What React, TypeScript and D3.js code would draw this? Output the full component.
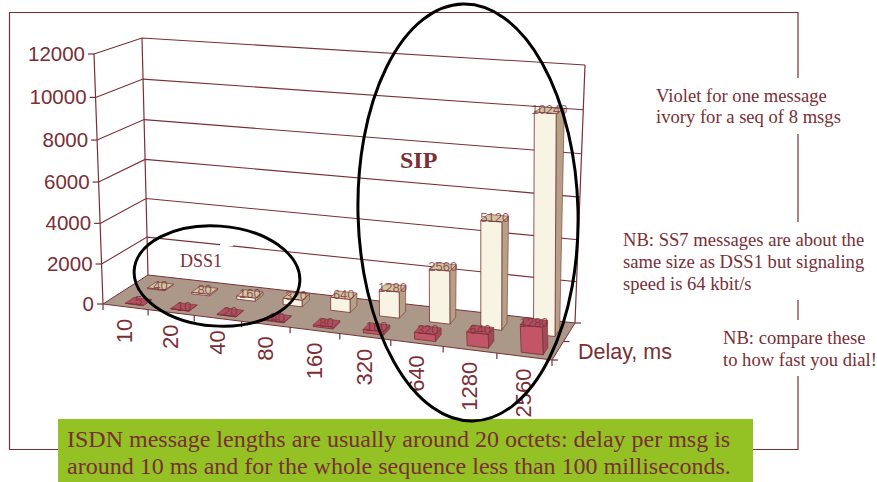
import React from "react";
import * as d3 from "d3";

const categories = ["10", "20", "40", "80", "160", "320", "640", "1280", "2560"];
const violetValues = [5, 10, 20, 40, 80, 160, 320, 640, 1280];
const ivoryValues = [40, 80, 160, 320, 640, 1280, 2560, 5120, 10240];
const valueTicks = [0, 2000, 4000, 6000, 8000, 10000, 12000];
const seriesNames = ["violet", "ivory"];

const INK = "#7a2f36";
type P = [number, number];

const xBand = d3.scaleBand<string>().domain(categories).range([0, 1]);
const zBand = d3.scaleBand<string>().domain(seriesNames).range([0, 1]);
const hScale = d3.scaleLinear().domain([0, 12000]).range([0, 1]);

// corners of the 3D box on screen
const FL0: P = [103, 304], FR0: P = [552, 360], BL0: P = [148, 275], BR0: P = [575, 323];
const FL1: P = [94, 54], FR1: P = [541, 88], BL1: P = [142, 38], BR1: P = [585, 65];
const mix = (a: P, b: P, t: number): P => [a[0] + (b[0] - a[0]) * t, a[1] + (b[1] - a[1]) * t];
// slight perspective along the category and the value axis
const warpU = (u: number) => u / (u + 1.12 * (1 - u));
const warpH = (h: number) => h / (h + 1.05 * (1 - h));
const project = (uRaw: number, v: number, hRaw: number): P => {
  const u = warpU(uRaw);
  const base = mix(mix(FL0, FR0, u), mix(BL0, BR0, u), v);
  const top = mix(mix(FL1, FR1, u), mix(BL1, BR1, u), v);
  return mix(base, top, warpH(hRaw));
};
const poly = (pts: P[]) => pts.map((p) => p.map((n) => n.toFixed(1)).join(",")).join(" ");
const line = (a: P, b: P, w = 1.2) => <line x1={a[0]} y1={a[1]} x2={b[0]} y2={b[1]} stroke={INK} strokeWidth={w} />;

function Bar({ i, s, value, front, side, top }: { i: number; s: string; value: number; front: string; side: string; top: string }) {
  const step = xBand.bandwidth();
  const u0 = xBand(categories[i])! + step * 0.4;
  const u1 = u0 + step * 0.4;
  const dz = zBand.bandwidth();
  const v0 = zBand(s)! + dz * 0.2;
  const v1 = v0 + dz * 0.4;
  const h = hScale(value);
  const label = project((u0 + u1) / 2, (v0 + v1) / 2, h);
  return (
    <g>
      <polygon points={poly([project(u1, v0, 0), project(u1, v1, 0), project(u1, v1, h), project(u1, v0, h)])} fill={side} stroke={INK} strokeWidth={0.6} />
      <polygon points={poly([project(u0, v0, h), project(u1, v0, h), project(u1, v1, h), project(u0, v1, h)])} fill={top} stroke={INK} strokeWidth={0.6} />
      <polygon points={poly([project(u0, v0, 0), project(u1, v0, 0), project(u1, v0, h), project(u0, v0, h)])} fill={front} stroke={INK} strokeWidth={0.8} />
      <text x={label[0]} y={label[1] + 4} textAnchor="middle" fontFamily="Liberation Sans" fontSize={13} fill={INK} fillOpacity={0.75}>{value}</text>
    </g>
  );
}

export default function App() {
  return (
    <svg width={877} height={482} style={{ position: "absolute", left: 0, top: 0, background: "#fff" }}>
      <path d="M798,12.5 H9.5 V449.5 H798 V12" fill="none" stroke={INK} strokeWidth={1.2} />
      <rect x={790} y={78} width={16} height={56} fill="#fff" />
      <rect x={790} y={222} width={16} height={78} fill="#fff" />
      <rect x={790} y={320} width={16} height={56} fill="#fff" />

      {/* walls and grid */}
      {valueTicks.map((t) => {
        const h = hScale(t);
        return (
          <g key={t}>
            {t > 0 && <polyline points={poly([project(0, 0, h), project(0, 1, h), project(1, 1, h)])} fill="none" stroke={INK} strokeWidth={1.1} />}
            {line([project(0, 0, h)[0] - 6, project(0, 0, h)[1]], project(0, 0, h))}
            <text x={project(0, 0, h)[0] - 9} y={project(0, 0, h)[1] + 7} textAnchor="end" fontFamily="Liberation Sans" fontSize={20.5} fill={INK}>{t}</text>
          </g>
        );
      })}
      {line(project(0, 0, 0), project(0, 0, 1))}
      {line(project(0, 1, 0), project(0, 1, 1))}
      {line(project(1, 1, 0), project(1, 1, 1))}
      <rect x={220} y={240} width={13} height={6} fill="#fff" />

      {/* floor */}
      <polygon points={poly([FL0, FR0, BR0, BL0])} fill="#ab9888" stroke={INK} strokeWidth={1} />
      {categories.map((c) => {
        const u = xBand(c)!;
        const p = project(u, 0, 0);
        const m = project(u + xBand.bandwidth() / 2, 0, 0);
        return (
          <g key={c}>
            {line(p, [p[0], p[1] + 6])}
            <text transform={`translate(${m[0] + 7},${m[1] + 12}) rotate(-90)`} textAnchor="end" fontFamily="Liberation Sans" fontSize={22} fill={INK}>{c}</text>
          </g>
        );
      })}
      {line(FR0, [FR0[0], FR0[1] + 6])}
      {line(FR0, [FR0[0] + 6, FR0[1]])}
      {line(BR0, [BR0[0] + 6, BR0[1]])}
      {line(mix(FR0, BR0, 0.5), [mix(FR0, BR0, 0.5)[0] + 6, mix(FR0, BR0, 0.5)[1]])}
      <text x={578} y={359} fontFamily="Liberation Sans" fontSize={21.5} fill={INK}>Delay, ms</text>

      {/* bars: back row then front row */}
      {ivoryValues.map((v, i) => <Bar key={i} i={i} s="ivory" value={v} front="#f8f4e3" side="#b5a286" top="#d2c5a2" />)}
      {violetValues.map((v, i) => <Bar key={i} i={i} s="violet" value={v} front="#c25666" side="#a04a58" top="#b04f5f" />)}

      {/* annotations */}
      <g fontFamily="Liberation Serif" fill={INK}>
        <text x={180} y={267} fontSize={18}>DSS1</text>
        <text x={400} y={168} fontSize={24} fontWeight="bold">SIP</text>
        <g fontSize={18.6}>
          <text x={656} y={102}>Violet for one message</text>
          <text x={656} y={123}>ivory for a seq of 8 msgs</text>
          <text x={623} y={246}>NB: SS7 messages are about the</text>
          <text x={623} y={268}>same size as DSS1 but signaling</text>
          <text x={623} y={290}>speed is 64 kbit/s</text>
          <text x={723} y={344}>NB: compare these</text>
          <text x={723} y={366}>to how fast you dial!</text>
        </g>
      </g>
      <rect x={58} y={419} width={695} height={63} fill="#94c124" />
      <g fontFamily="Liberation Serif" fill={INK} fontSize={24}>
        <text x={67} y={447}>ISDN message lengths are usually around 20 octets: delay per msg is</text>
        <text x={67} y={474}>around 10 ms and for the whole sequence less than 100 milliseconds.</text>
      </g>
      <ellipse cx={217} cy={276} rx={83} ry={50} transform="rotate(4 217 276)" fill="none" stroke="#000" strokeWidth={3} />
      <ellipse cx={468} cy={212.5} rx={110} ry={208.5} transform="rotate(-1.4 468 212.5)" fill="none" stroke="#000" strokeWidth={3} />
    </svg>
  );
}
